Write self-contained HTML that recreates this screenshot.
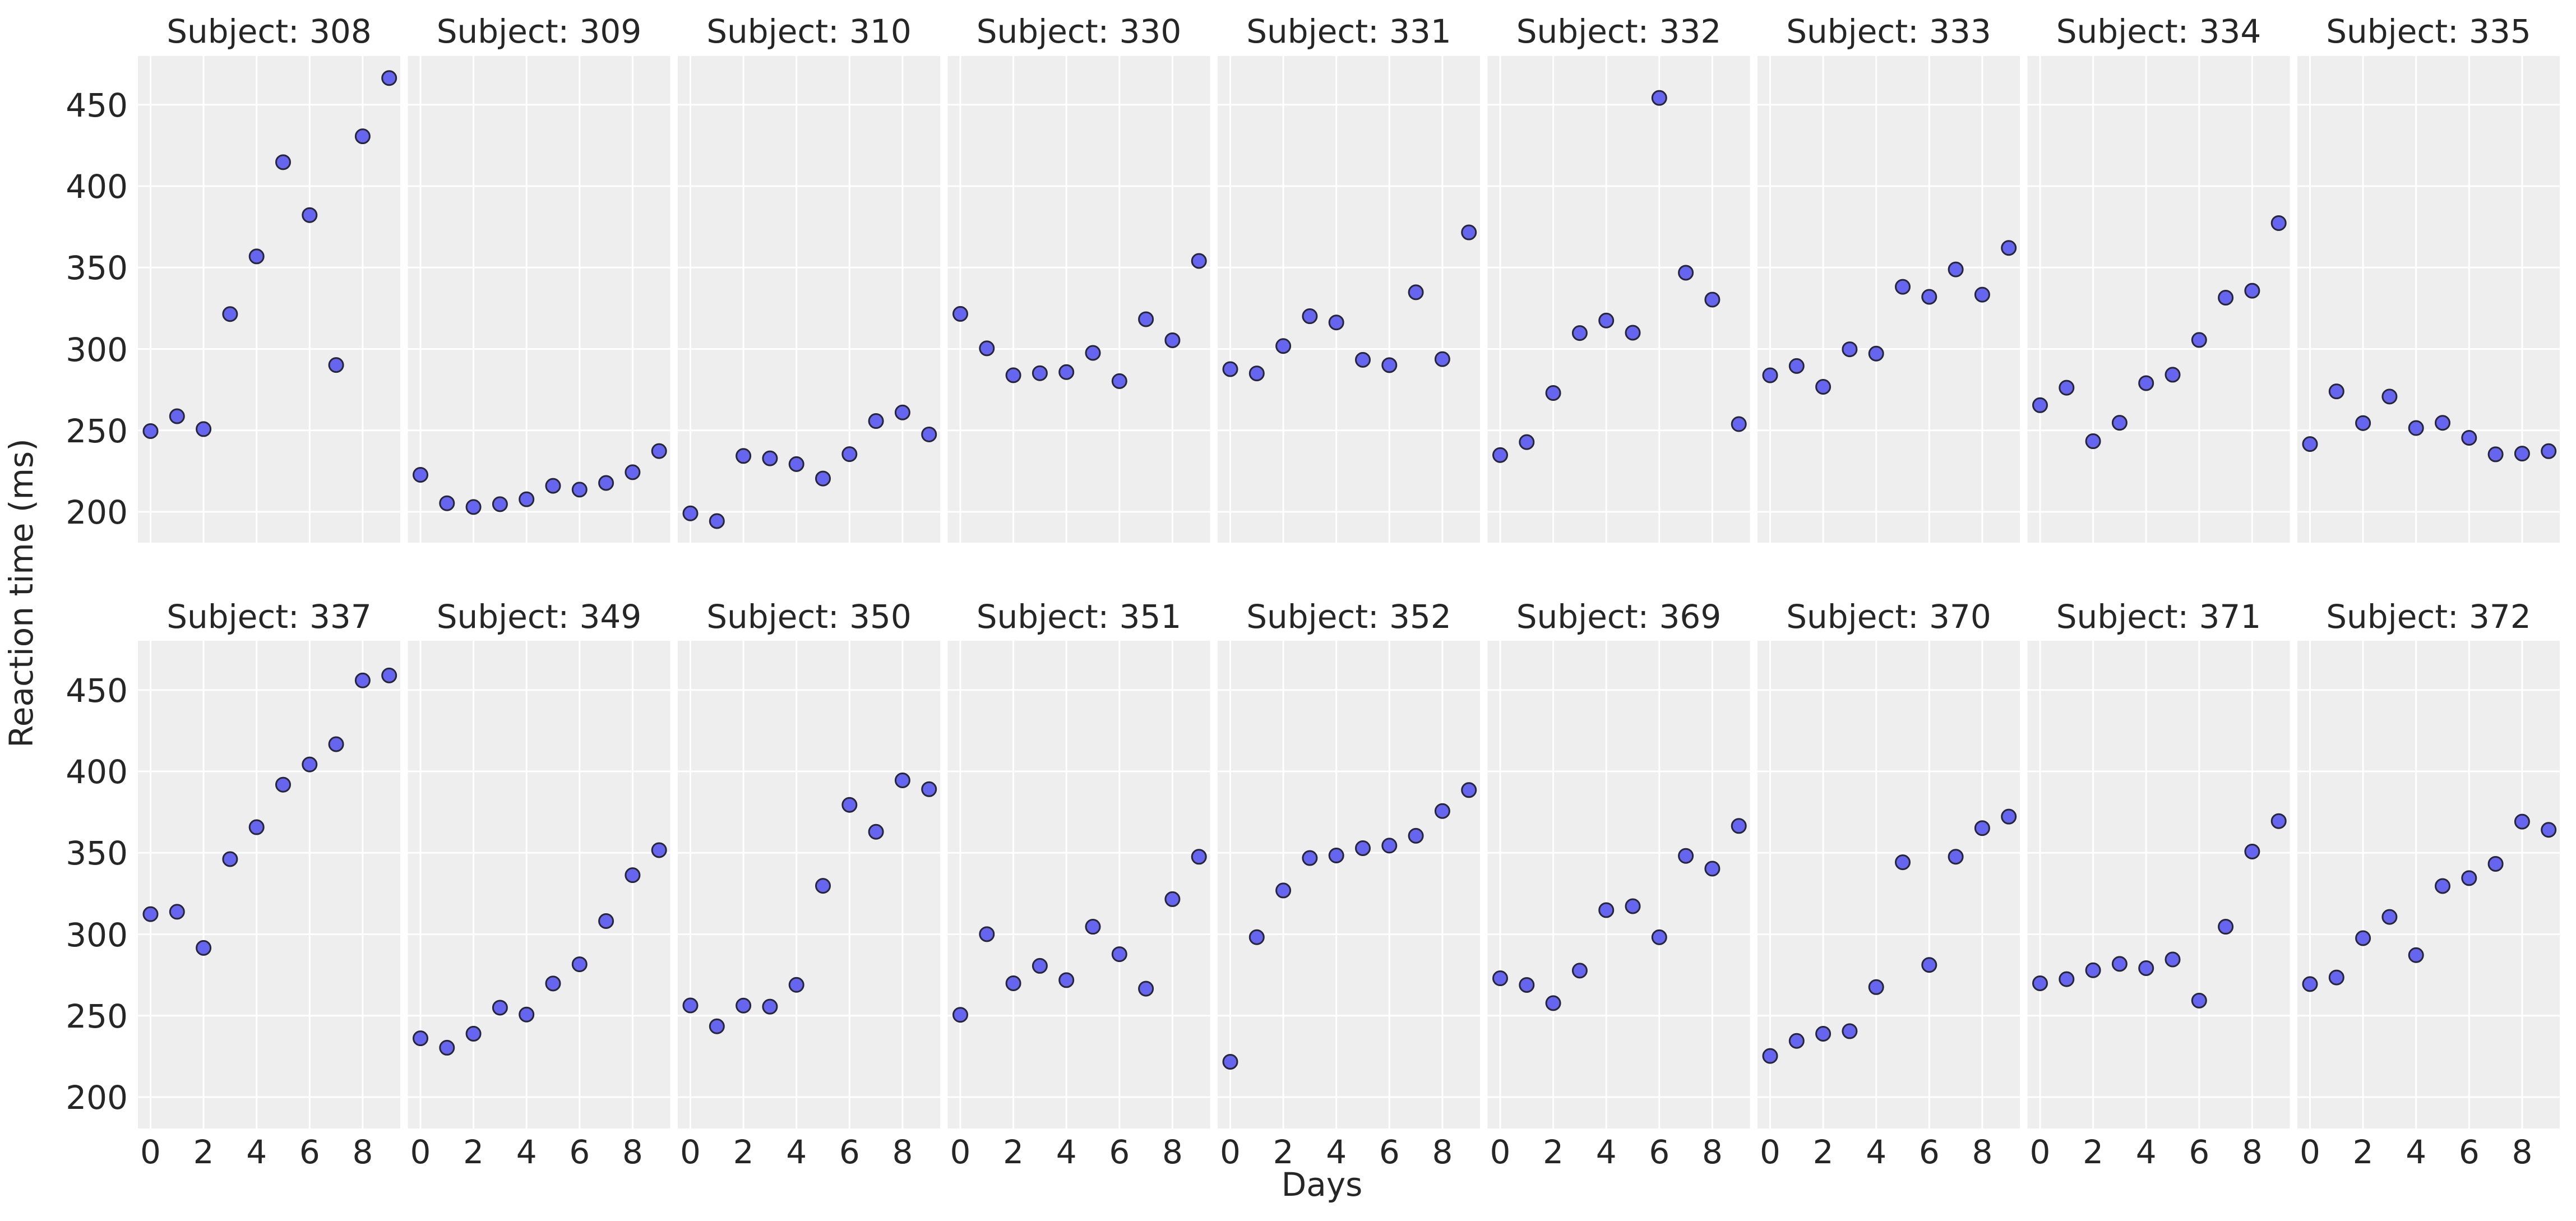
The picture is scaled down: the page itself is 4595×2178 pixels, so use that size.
<!DOCTYPE html>
<html><head><meta charset="utf-8"><style>
html,body{margin:0;padding:0;background:#fff}
svg{display:block}
text{font-family:"DejaVu Sans","Liberation Sans",sans-serif;fill:#262626}
.t{font-size:58px;text-anchor:middle}
.xt{font-size:58px;text-anchor:middle}
.yt{font-size:58px;text-anchor:end}
</style></head><body>
<svg id="s" width="4595" height="2178" viewBox="0 0 4595 2178" xmlns="http://www.w3.org/2000/svg">
<g id="bg"></g>
<g id="pts"></g>
<g>
<text class="t" x="480" y="76">Subject: 308</text>
<text class="t" x="961.5" y="76">Subject: 309</text>
<text class="t" x="1443" y="76">Subject: 310</text>
<text class="t" x="1924.5" y="76">Subject: 330</text>
<text class="t" x="2406" y="76">Subject: 331</text>
<text class="t" x="2887.5" y="76">Subject: 332</text>
<text class="t" x="3369" y="76">Subject: 333</text>
<text class="t" x="3850.5" y="76">Subject: 334</text>
<text class="t" x="4332" y="76">Subject: 335</text>
<text class="t" x="480" y="1120">Subject: 337</text>
<text class="t" x="961.5" y="1120">Subject: 349</text>
<text class="t" x="1443" y="1120">Subject: 350</text>
<text class="t" x="1924.5" y="1120">Subject: 351</text>
<text class="t" x="2406" y="1120">Subject: 352</text>
<text class="t" x="2887.5" y="1120">Subject: 369</text>
<text class="t" x="3369" y="1120">Subject: 370</text>
<text class="t" x="3850.5" y="1120">Subject: 371</text>
<text class="t" x="4332" y="1120">Subject: 372</text>
</g>
<text class="yt" x="228" y="934">200</text>
<text class="yt" x="228" y="789">250</text>
<text class="yt" x="228" y="644">300</text>
<text class="yt" x="228" y="498">350</text>
<text class="yt" x="228" y="353">400</text>
<text class="yt" x="228" y="208">450</text>
<text class="yt" x="228" y="1978">200</text>
<text class="yt" x="228" y="1833">250</text>
<text class="yt" x="228" y="1688">300</text>
<text class="yt" x="228" y="1542">350</text>
<text class="yt" x="228" y="1397">400</text>
<text class="yt" x="228" y="1252">450</text>
<g transform="translate(246,2075)"><text class="xt" x="22.5">0</text><text class="xt" x="117.1">2</text><text class="xt" x="211.7">4</text><text class="xt" x="306.3">6</text><text class="xt" x="400.9">8</text></g>
<g transform="translate(727.5,2075)"><text class="xt" x="22.5">0</text><text class="xt" x="117.1">2</text><text class="xt" x="211.7">4</text><text class="xt" x="306.3">6</text><text class="xt" x="400.9">8</text></g>
<g transform="translate(1209,2075)"><text class="xt" x="22.5">0</text><text class="xt" x="117.1">2</text><text class="xt" x="211.7">4</text><text class="xt" x="306.3">6</text><text class="xt" x="400.9">8</text></g>
<g transform="translate(1690.5,2075)"><text class="xt" x="22.5">0</text><text class="xt" x="117.1">2</text><text class="xt" x="211.7">4</text><text class="xt" x="306.3">6</text><text class="xt" x="400.9">8</text></g>
<g transform="translate(2172,2075)"><text class="xt" x="22.5">0</text><text class="xt" x="117.1">2</text><text class="xt" x="211.7">4</text><text class="xt" x="306.3">6</text><text class="xt" x="400.9">8</text></g>
<g transform="translate(2653.5,2075)"><text class="xt" x="22.5">0</text><text class="xt" x="117.1">2</text><text class="xt" x="211.7">4</text><text class="xt" x="306.3">6</text><text class="xt" x="400.9">8</text></g>
<g transform="translate(3135,2075)"><text class="xt" x="22.5">0</text><text class="xt" x="117.1">2</text><text class="xt" x="211.7">4</text><text class="xt" x="306.3">6</text><text class="xt" x="400.9">8</text></g>
<g transform="translate(3616.5,2075)"><text class="xt" x="22.5">0</text><text class="xt" x="117.1">2</text><text class="xt" x="211.7">4</text><text class="xt" x="306.3">6</text><text class="xt" x="400.9">8</text></g>
<g transform="translate(4098,2075)"><text class="xt" x="22.5">0</text><text class="xt" x="117.1">2</text><text class="xt" x="211.7">4</text><text class="xt" x="306.3">6</text><text class="xt" x="400.9">8</text></g>
<text class="t" x="2358" y="2133">Days</text>
<text class="t" x="0" y="0" transform="translate(58,1058) rotate(-90)">Reaction time (ms)</text>
</svg>
<script>
(function(){
var D=[
[249.56,258.70,250.80,321.44,356.85,414.69,382.20,290.15,430.59,466.35],
[222.73,205.27,202.98,204.71,207.72,215.96,213.63,217.73,224.30,237.31],
[199.05,194.33,234.32,232.84,229.31,220.46,235.42,255.75,261.01,247.52],
[321.54,300.40,283.86,285.13,285.80,297.59,280.24,318.26,305.35,354.05],
[287.61,285.00,301.82,320.12,316.28,293.32,290.08,334.82,293.75,371.58],
[234.86,242.81,272.96,309.77,317.46,309.99,454.16,346.83,330.30,253.86],
[283.84,289.55,276.77,299.80,297.17,338.17,332.02,348.84,333.36,362.04],
[265.47,276.20,243.36,254.67,279.02,284.19,305.53,331.50,335.75,377.30],
[241.61,273.95,254.49,270.80,251.45,254.64,245.45,235.31,235.75,237.25],
[312.36,313.80,291.61,346.12,365.73,391.84,404.26,416.69,455.86,458.92],
[236.10,230.32,238.92,254.92,250.71,269.77,281.56,308.10,336.28,351.65],
[256.29,243.46,256.20,255.53,268.92,329.73,379.44,362.92,394.49,389.05],
[250.53,300.06,269.89,280.58,271.83,304.63,287.75,266.56,321.54,347.57],
[221.68,298.19,326.88,346.80,348.37,352.83,354.42,360.46,375.64,388.54],
[272.96,268.86,257.70,277.66,314.82,317.21,298.14,348.12,340.28,366.51],
[225.26,234.52,238.90,240.47,267.54,344.19,281.15,347.59,365.16,372.23],
[269.88,272.43,277.89,281.79,279.17,284.51,259.27,304.63,350.78,369.47],
[269.41,273.47,297.60,310.63,287.17,329.61,334.48,343.22,369.14,364.12]];
var NS="http://www.w3.org/2000/svg",bg=document.getElementById('bg'),pts=document.getElementById('pts');
function el(p,t,a){var e=document.createElementNS(NS,t);for(var k in a)e.setAttribute(k,a[k]);p.appendChild(e);}
for(var r=0;r<2;r++){var tp=r?1143:100,bt=r?2013:968,base=r?1957:913;
for(var i=0;i<9;i++){var L=246+i*481.5;
el(bg,'rect',{x:L,y:tp,width:468,height:bt-tp,fill:'#eeeeee'});
for(var d=0;d<=8;d+=2){var x=L+22.5+d*47.3;el(bg,'line',{x1:x,x2:x,y1:tp,y2:bt,stroke:'#fff','stroke-width':3});}
for(var v=200;v<=450;v+=50){var y=base-(v-200)*2.905;el(bg,'line',{x1:L,x2:L+468,y1:y,y2:y,stroke:'#fff','stroke-width':3});}
var s=D[r*9+i];
for(var k=0;k<10;k++){el(pts,'circle',{cx:L+22.5+k*47.3,cy:base-(s[k]-200)*2.905,r:12.5,fill:'#6565ef',stroke:'#262636','stroke-width':3});}
}}
})();
</script>
</body></html>
